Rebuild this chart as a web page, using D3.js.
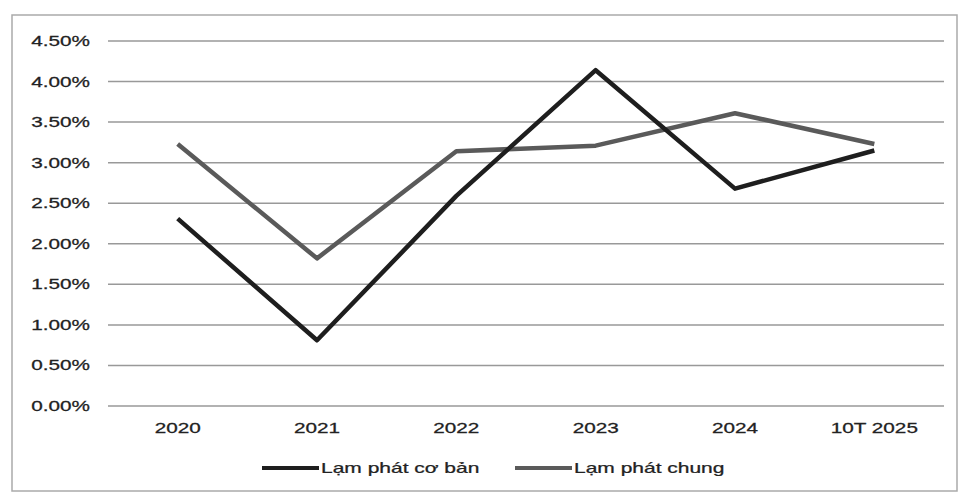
<!DOCTYPE html>
<html>
<head>
<meta charset="utf-8">
<script src="https://cdn.jsdelivr.net/npm/d3@7"></script>
<style>
  body { margin: 0; background: #fff; }
  text { font-family: "Liberation Sans", Arial, sans-serif; fill: #222; stroke: #222; stroke-width: 0.25px; }
</style>
</head>
<body>
<div id="container"></div>
<script>
// data
const years = ["2020", "2021", "2022", "2023", "2024", "10T 2025"]
const coreInflation = [2.31, 0.81, 2.59, 4.14, 2.68, 3.15]   // Lạm phát cơ bản
const headlineInflation = [3.23, 1.82, 3.14, 3.21, 3.61, 3.23]  // Lạm phát chung
const yTicks = [0, 0.5, 1, 1.5, 2, 2.5, 3, 3.5, 4, 4.5]
const seriesNames = ["Lạm phát cơ bản", "Lạm phát chung"]

const width = 962, height = 494
const margin = { top: 41, bottom: 88, left: 108, right: 18 }
const stretch = 1.48 // scan is stretched horizontally

const svg = d3.select("#container").append("svg")
  .attr("width", width).attr("height", height)

// outer frame
svg.append("rect")
  .attr("x", 12).attr("y", 15).attr("width", 945).attr("height", 476)
  .attr("fill", "none").attr("stroke", "#aaa").attr("stroke-width", 1.5)

const x = d3.scaleBand().domain(years)
  .range([margin.left, width - margin.right])
const y = d3.scaleLinear().domain([0, 4.5])
  .range([height - margin.bottom, margin.top])

// gridlines
svg.selectAll("line.grid").data(yTicks).join("line")
  .attr("class", "grid")
  .attr("x1", margin.left).attr("x2", width - margin.right)
  .attr("y1", d => y(d)).attr("y2", d => y(d))
  .attr("stroke", "#999").attr("stroke-width", 1.5)

// y labels
svg.selectAll("text.ytick").data(yTicks).join("text")
  .attr("class", "ytick")
  .attr("text-anchor", "end")
  .attr("font-size", 14)
  .attr("transform", d => `translate(90,${y(d) + 5}) scale(${stretch},1)`)
  .text(d => d.toFixed(2) + "%")

// x labels
svg.selectAll("text.xtick").data(years).join("text")
  .attr("class", "xtick")
  .attr("text-anchor", "middle")
  .attr("font-size", 14)
  .attr("transform", d => `translate(${x(d) + x.bandwidth() / 2},433) scale(${stretch},1)`)
  .text(d => d)

const line = d3.line()
  .x((d, i) => x(years[i]) + x.bandwidth() / 2)
  .y(d => y(d))

svg.append("path").datum(headlineInflation)
  .attr("d", line).attr("fill", "none")
  .attr("stroke", "#5a5a5a").attr("stroke-width", 4.5)
  .attr("stroke-linejoin", "round")

svg.append("path").datum(coreInflation)
  .attr("d", line).attr("fill", "none")
  .attr("stroke", "#1e1e1e").attr("stroke-width", 4.5)
  .attr("stroke-linejoin", "round")

// legend
const legend = [
  { name: seriesNames[0], color: "#1e1e1e", x0: 262 },
  { name: seriesNames[1], color: "#5a5a5a", x0: 515 }
]
legend.forEach(l => {
  svg.append("line")
    .attr("x1", l.x0).attr("x2", l.x0 + 57)
    .attr("y1", 468).attr("y2", 468)
    .attr("stroke", l.color).attr("stroke-width", 4)
  svg.append("text")
    .attr("font-size", 14)
    .attr("transform", `translate(${l.x0 + 59},473) scale(1.5,1)`)
    .text(l.name)
})
</script>
</body>
</html>
